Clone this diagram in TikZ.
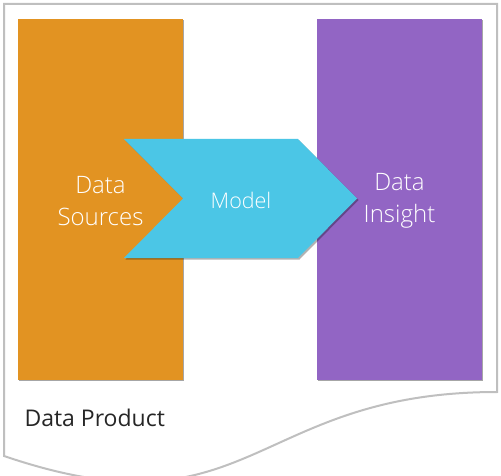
\documentclass[tikz,border=0pt]{standalone}
\usepackage{fontspec}
\setmainfont{Open Sans}
\newfontfamily\lightfont{Open Sans Light}
\usetikzlibrary{shadows}
\definecolor{docline}{HTML}{BFBFBF}
\definecolor{orangebox}{HTML}{E29322}
\definecolor{purplebox}{HTML}{9265C4}
\definecolor{bluechev}{HTML}{4BC6E6}
\definecolor{darktext}{HTML}{262626}
\tikzset{
  panel/.style={draw=none, drop shadow={shadow xshift=1.2pt, shadow yshift=-1.2pt, opacity=0.35, fill=black}},
  boxlabel/.style={text=white, font=\lightfont\fontsize{24}{32}\selectfont, align=center},
  chevlabel/.style={text=white, font=\lightfont\fontsize{21.5}{24}\selectfont},
}
\begin{document}
\begin{tikzpicture}[x=1pt,y=-1pt]
\useasboundingbox (0,0) rectangle (501,476);
% document shape
\draw[docline, line width=2pt, fill=white]
  (4,4) -- (497,4) -- (497,392)
  .. controls (251,392) and (251,540) .. (4,456) -- cycle;
% panels
\path[panel, fill=orangebox] (18,19) rectangle (183,380);
\path[panel, fill=purplebox] (317,19) rectangle (482,380);
\coordinate (src) at (100.5,201);
\coordinate (ins) at (399.5,201);
% chevron
\path[fill=bluechev, drop shadow={shadow xshift=1.5pt, shadow yshift=-1.5pt, opacity=0.3, fill=black}]
  (124,139) -- (298,139) -- (357,198.5) -- (298,258) -- (124,258) -- (183,198.5) -- cycle;
\node[boxlabel] (srcl) at (src) {Data\\Sources};
\node[boxlabel] (insl) at (ins) {Data\\Insight};
\node[chevlabel] (model) at (241,200) {Model};
\node[anchor=base west, text=darktext, font=\fontsize{23}{26}\selectfont] (prod) at (21,426.5) {Data Product};
\end{tikzpicture}
\end{document}
